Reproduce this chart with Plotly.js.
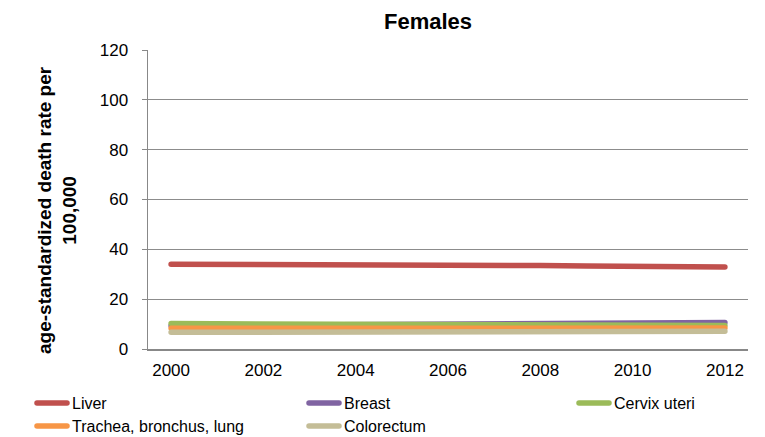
<!DOCTYPE html>
<html>
<head>
<meta charset="utf-8">
<script src="https://cdn.plot.ly/plotly-3.0.1.min.js"></script>
<style>html,body{margin:0;padding:0;background:#fff;}#chart{width:765px;height:437px;}</style>
</head>
<body>
<div id="chart"></div>
<script>
var years = ['2000','2001','2002','2003','2004','2005','2006','2007','2008','2009','2010','2011','2012'];
var tickYears = ['2000','2002','2004','2006','2008','2010','2012'];
var liver = [34.0,34.0,34.0,34.0,34.0,33.9,33.8,33.6,33.5,33.3,33.2,33.1,32.9];
var breast = [9.3,9.4,9.5,9.6,9.8,9.9,10.0,10.1,10.2,10.3,10.4,10.5,10.6];
var cervix = [10.2,10.1,10.0,9.9,9.8,9.8,9.7,9.7,9.6,9.6,9.5,9.5,9.4];
var lung = [8.3,8.3,8.3,8.3,8.3,8.3,8.3,8.3,8.4,8.4,8.4,8.4,8.4];
var colorectum = [6.7,6.7,6.8,6.8,6.8,6.9,6.9,6.9,7.0,7.0,7.0,7.1,7.1];
var yTicks = [0,20,40,60,80,100,120];

var seriesNames = ['Liver','Breast','Cervix uteri','Trachea, bronchus, lung','Colorectum'];
var seriesValues = [liver, breast, cervix, lung, colorectum];
var seriesColors = ['#c0504d','#8064a2','#9bbb59','#f79646','#c4bd97'];
var seriesLegend = ['legend','legend2','legend3','legend4','legend5'];

var traces = seriesNames.map(function(n,i){
  return {
    type:'scatter', mode:'lines', name:n, x:years, y:seriesValues[i],
    line:{color:seriesColors[i], width:5.5}, legend:seriesLegend[i], hoverinfo:'skip'
  };
});

var font = {family:'"Liberation Sans", Arial, sans-serif', color:'#000'};
function mkLegend(xpx, ypx){
  return {
    orientation:'v', xanchor:'left', yanchor:'top',
    x:(xpx-148)/600, y:(349-ypx)/299,
    font:{family:font.family, size:16, color:'#000'},
    bgcolor:'rgba(0,0,0,0)', borderwidth:0, tracegroupgap:0
  };
}

var layout = {
  width:765, height:437,
  margin:{l:148, r:17, t:50, b:88, pad:0, autoexpand:false},
  paper_bgcolor:'#fff', plot_bgcolor:'#fff',
  font:font,
  title:{text:'<b>Females</b>', font:{family:font.family, size:22, color:'#000'},
    x:428/765, xanchor:'center', xref:'container', y:1-21/437, yanchor:'middle', yref:'container'},
  xaxis:{type:'category', categoryarray:years, range:[-0.5,12.5], tickvals:tickYears, ticktext:tickYears,
    showgrid:false, showline:true, linecolor:'#888', linewidth:1.5, ticks:'',
    ticklabelstandoff:5,
    tickfont:{family:font.family, size:17, color:'#000'}, zeroline:false, fixedrange:true},
  yaxis:{range:[0,120], tickvals:yTicks, showgrid:true, gridcolor:'#8c8c8c', gridwidth:1,
    showline:true, linecolor:'#888', linewidth:1.5, ticks:'outside', ticklen:5, tickcolor:'#888',
    ticklabelstandoff:10,
    tickfont:{family:font.family, size:17, color:'#000'}, zeroline:false, fixedrange:true},
  legend:mkLegend(32, 386),
  legend2:mkLegend(304, 386),
  legend3:mkLegend(574, 386),
  legend4:mkLegend(32, 409),
  legend5:mkLegend(304, 409),
  annotations:[{
    text:'<b>age-standardized death rate per<br>100,000</b>', textangle:-90,
    xref:'paper', yref:'paper', x:(57-148)/600, y:(349-210)/299, xanchor:'center', yanchor:'middle',
    showarrow:false, font:{family:font.family, size:19, color:'#000'}
  }],
  showlegend:true
};

Plotly.newPlot('chart', traces, layout, {staticPlot:true, displayModeBar:false}).then(function(){
  document.querySelectorAll('.js-line').forEach(function(p){
    p.style.strokeLinecap='round'; p.style.strokeLinejoin='round';
  });
});
</script>
</body>
</html>
